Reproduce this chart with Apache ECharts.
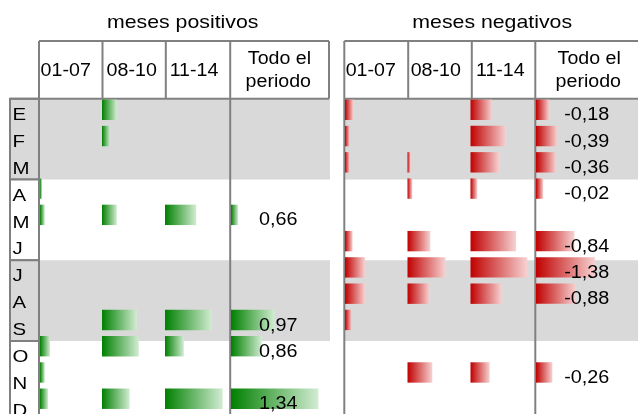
<!DOCTYPE html>
<html>
<head>
<meta charset="utf-8">
<script src="https://cdn.jsdelivr.net/npm/echarts@6/dist/echarts.min.js"></script>
<style>
  html, body { margin: 0; padding: 0; background: #fff; }
  #chart { width: 638px; height: 414px; }
</style>
</head>
<body>
<div id="chart"></div>
<script>
// Month rows and column headings
const months = ['E', 'F', 'M', 'A', 'M', 'J', 'J', 'A', 'S', 'O', 'N', 'D'];
const periods = ['01-07', '08-10', '11-14'];
const totalHeader = ['Todo el', 'periodo'];
const titles = ['meses positivos', 'meses negativos'];

// Average of the positive months, per period (null = no bar)
const pos0107 = [null, null, null, 0.05, 0.12, null, null, null, null, 0.25, 0.12, 0.20];
const pos0810 = [0.37, 0.20, null, null, 0.37, null, null, null, 0.87, 0.92, null, 0.69];
const pos1114 = [null, null, null, null, 0.78, null, null, null, 1.17, 0.47, null, 1.44];
const posTotal = [null, null, null, null, 0.66, null, null, null, 0.97, 0.86, null, 1.34];

// Average of the negative months, per period
const neg0107 = [-0.21, -0.12, -0.12, null, null, -0.19, -0.50, -0.50, -0.17, null, null, null];
const neg0810 = [null, null, -0.08, -0.12, null, -0.57, -0.95, -0.55, null, null, -0.62, null];
const neg1114 = [-0.54, -0.89, -0.72, -0.17, null, -1.14, -1.42, -0.78, null, null, -0.48, null];
const negTotal = [-0.18, -0.39, -0.36, -0.02, null, -0.84, -1.38, -0.88, null, null, -0.26, null];

// ---- layout & style ----
const FONT = "'Liberation Sans', Arial, Helvetica, sans-serif";
const GRAY = '#d9d9d9';
const RULE = '#808080';
const GREEN = ['#008000', '#d2ecd2'];
const RED = ['#c00000', '#f7d2d2'];
const ROW_TOP = 98.8;
const ROW_H = 26.9;
const HEAD_TOP = 41;
const BOTTOM = 420;
const BAR_H = 20.4;

const columns = [
  { values: pos0107, left: 40,    width: 62, min: 0,     max: 1.55, inverse: false, ramp: GREEN },
  { values: pos0810, left: 102,   width: 62, min: 0,     max: 1.55, inverse: false, ramp: GREEN },
  { values: pos1114, left: 165,   width: 62, min: 0,     max: 1.55, inverse: false, ramp: GREEN },
  { values: posTotal, left: 231,  width: 98, min: 0.6,   max: 1.43, inverse: false, ramp: GREEN, labelX: 278.3 },
  { values: neg0107, left: 345,   width: 62, min: -1.55, max: 0,    inverse: true,  ramp: RED },
  { values: neg0810, left: 407.5, width: 62, min: -1.55, max: 0,    inverse: true,  ramp: RED },
  { values: neg1114, left: 470.5, width: 62, min: -1.55, max: 0,    inverse: true,  ramp: RED },
  { values: negTotal, left: 536,  width: 102, min: -2.51, max: 0.17, inverse: true, ramp: RED, labelX: 586.7 }
];

const tables = [
  { titleX: 182.7, rules: [39, 102.5, 165.8, 230.2, 329], body: [39, 230.2], band: [38, 330],
    heads: [65.7, 131.7, 194], totalX: [279.5, 278.3] },
  { titleX: 492.2, rules: [344.3, 408.2, 471.8, 535.3], body: [344.3, 535.3], band: [344, 640], right: 640,
    heads: [370.8, 435.8, 500.3], totalX: [589.2, 588.3] }
];

function fmt(v) { return v.toFixed(2).replace('.', ','); }

function textEl(str, x, y, size, sx, align) {
  return {
    type: 'text', x: x, y: y, scaleX: sx,
    style: { text: str, font: size + 'px ' + FONT, fill: '#000',
             align: align || 'center', verticalAlign: 'middle' }
  };
}

function lineEl(x1, y1, x2, y2) {
  return { type: 'line', shape: { x1, y1, x2, y2 }, style: { stroke: RULE, lineWidth: 2 } };
}

// Table background, rules and texts
const elements = [];
tables.forEach(t => {
  [0, 2].forEach(q => {
    elements.push({ type: 'rect',
      shape: { x: t.band[0], y: ROW_TOP + q * 3 * ROW_H, width: t.band[1] - t.band[0], height: 3 * ROW_H },
      style: { fill: GRAY } });
  });
});
for (let q = 0; q < 4; q++) {
  elements.push({ type: 'rect',
    shape: { x: 10, y: ROW_TOP + q * 3 * ROW_H, width: 29, height: 3 * ROW_H },
    style: { fill: q % 2 === 0 ? GRAY : '#fff', stroke: RULE, lineWidth: 2 } });
}
tables.forEach((t, ti) => {
  const x0 = t.rules[0];
  const x1 = t.right || t.rules[t.rules.length - 1];
  elements.push(lineEl(x0, HEAD_TOP, x1, HEAD_TOP));
  elements.push(lineEl(ti === 0 ? 10 : x0, ROW_TOP, x1, ROW_TOP));
  t.rules.forEach(x => elements.push(lineEl(x, HEAD_TOP, x, ROW_TOP)));
  t.body.forEach(x => elements.push(lineEl(x, ROW_TOP, x, BOTTOM)));
  elements.push(textEl(titles[ti], t.titleX, 23, 19, 1.12));
  periods.forEach((p, i) => elements.push(textEl(p, t.heads[i], 71.5, 18, 1.09)));
  elements.push(textEl(totalHeader[0], t.totalX[0], 59, 18, 1.09));
  elements.push(textEl(totalHeader[1], t.totalX[1], 82, 18, 1.09));
});
months.forEach((m, i) => {
  elements.push(textEl(m, 12.5, ROW_TOP + (i + 0.5) * ROW_H + 3, 17, 1.2, 'left'));
});

// Data bars: each bar starts at the left edge of its cell
function makeRender(col) {
  const fill = new echarts.graphic.LinearGradient(0, 0, 1, 0, [
    { offset: 0, color: col.ramp[0] }, { offset: 1, color: col.ramp[1] }
  ]);
  return function (params, api) {
    const v = api.value(0);
    const row = api.value(1);
    const cs = params.coordSys;
    const end = api.coord([v, row]);
    const band = api.size([0, 1])[1];
    const top = end[1] - band / 2 + 0.8;
    const children = [{
      type: 'rect',
      shape: { x: cs.x, y: top, width: Math.max(end[0] - cs.x, 0), height: BAR_H },
      style: { fill: fill }
    }];
    if (col.labelX != null) {
      children.push({
        type: 'text', x: col.labelX, y: end[1] + 3.5, scaleX: 1.1,
        style: { text: fmt(v), font: '18px ' + FONT, fill: '#000', align: 'center', verticalAlign: 'middle' }
      });
    }
    return { type: 'group', children: children };
  };
}

const grid = [], xAxis = [], yAxis = [], series = [];
columns.forEach((col, k) => {
  grid.push({ left: col.left, top: ROW_TOP, width: col.width, height: ROW_H * months.length });
  xAxis.push({ type: 'value', gridIndex: k, min: col.min, max: col.max, inverse: col.inverse, show: false });
  yAxis.push({ type: 'category', gridIndex: k, inverse: true, show: false,
               data: months.map((m, i) => String(i)) });
  series.push({
    type: 'custom', xAxisIndex: k, yAxisIndex: k,
    encode: { x: 0, y: 1 },
    renderItem: makeRender(col),
    data: col.values.map((v, i) => (v == null ? null : [v, i])).filter(d => d !== null),
    silent: true
  });
});

const chart = echarts.init(document.getElementById('chart'), null, { renderer: 'canvas' });
chart.setOption({
  animation: false,
  backgroundColor: '#fff',
  graphic: { elements: elements },
  grid: grid,
  xAxis: xAxis,
  yAxis: yAxis,
  series: series
});
</script>
</body>
</html>
